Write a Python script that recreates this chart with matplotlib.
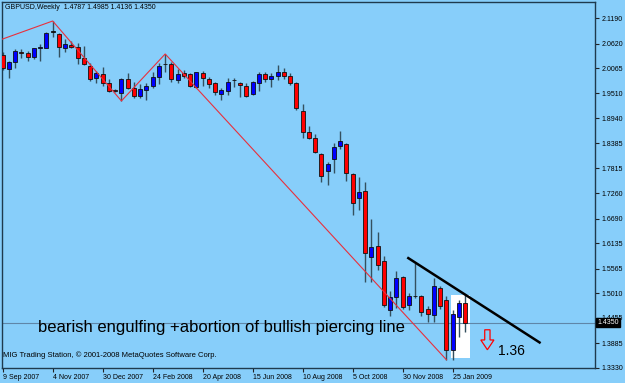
import matplotlib
matplotlib.use('Agg')
import matplotlib.pyplot as plt
import matplotlib.transforms as mtransforms
from matplotlib.patches import FancyArrow, Rectangle
import numpy as np

# weekly GBPUSD candles, 9 Sep 2007 .. Feb 2009
opens = [2.0366, 2.0051, 2.0202, 2.0440, 2.0404, 2.0328, 2.0516, 2.0516, 2.0882, 2.0837,
         2.0530, 2.0590, 2.0539, 2.0292, 2.0125, 1.9842, 1.9932, 1.9730, 1.9573, 1.9512,
         1.9827, 1.9631, 1.9445, 1.9568, 1.9676, 1.9878, 2.0157, 2.0164, 1.9804, 1.9955,
         1.9932, 1.9654, 1.9955, 1.9820, 1.9730, 1.9490, 1.9564, 1.9797, 1.9730, 1.9669,
         1.9483, 1.9744, 1.9939, 1.9820, 1.9901, 1.9977, 1.9901, 1.9744, 1.9108, 1.8643,
         1.8495, 1.8142, 1.7767, 1.8030, 1.8322, 1.8360, 1.7693, 1.7147, 1.7318, 1.5822,
         1.6076, 1.5746, 1.4638, 1.4924, 1.5373, 1.4751, 1.4946, 1.4953, 1.4654, 1.4526,
         1.5126, 1.4848, 1.3740, 1.4466, 1.4787]
highs = [2.0433, 2.0231, 2.0494, 2.0494, 2.0456, 2.0530, 2.0606, 2.0889, 2.1129, 2.0853,
         2.0725, 2.0680, 2.0642, 2.0568, 2.0179, 2.0006, 2.0089, 1.9820, 1.9602, 1.9849,
         1.9955, 1.9766, 1.9708, 1.9730, 1.9977, 2.0179, 2.0388, 2.0215, 2.0045, 2.0029,
         1.9955, 1.9991, 2.0013, 1.9865, 1.9766, 1.9618, 1.9842, 1.9842, 1.9766, 1.9730,
         1.9788, 1.9977, 1.9977, 1.9955, 2.0141, 2.0067, 1.9955, 1.9766, 1.9265, 1.8778,
         1.8591, 1.8158, 1.7956, 1.8383, 1.8666, 1.8383, 1.7709, 1.7632, 1.7507, 1.6676,
         1.6397, 1.5851, 1.5065, 1.5514, 1.5402, 1.5020, 1.5687, 1.4975, 1.4713, 1.5350,
         1.5177, 1.4937, 1.4638, 1.4863, 1.4985]
lows = [2.0029, 1.9856, 2.0067, 2.0292, 2.0231, 2.0269, 2.0238, 2.0512, 2.0777, 2.0328,
        2.0440, 2.0516, 2.0157, 2.0141, 1.9788, 1.9730, 1.9676, 1.9528, 1.9535, 1.9333,
        1.9602, 1.9393, 1.9393, 1.9355, 1.9618, 1.9708, 1.9977, 1.9753, 1.9744, 1.9842,
        1.9654, 1.9618, 1.9676, 1.9618, 1.9467, 1.9355, 1.9467, 1.9654, 1.9429, 1.9416,
        1.9467, 1.9564, 1.9766, 1.9654, 1.9804, 1.9820, 1.9692, 1.9130, 1.8495, 1.8486,
        1.8158, 1.7520, 1.7446, 1.7722, 1.8248, 1.7543, 1.6772, 1.6884, 1.5252, 1.5274,
        1.5537, 1.4699, 1.4504, 1.4684, 1.4661, 1.4638, 1.4901, 1.4504, 1.4353, 1.4353,
        1.4654, 1.3515, 1.3515, 1.4025, 1.4136]
closes = [2.0074, 2.0202, 2.0462, 2.0404, 2.0328, 2.0516, 2.0539, 2.0853, 2.0894, 2.0539,
          2.0613, 2.0539, 2.0292, 2.0157, 1.9827, 1.9955, 1.9730, 1.9557, 1.9550, 1.9827,
          1.9631, 1.9445, 1.9602, 1.9665, 1.9878, 2.0125, 2.0168, 1.9827, 1.9939, 1.9901,
          1.9669, 1.9977, 1.9842, 1.9708, 1.9528, 1.9580, 1.9766, 1.9809, 1.9692, 1.9452,
          1.9753, 1.9939, 1.9820, 1.9894, 1.9977, 1.9901, 1.9730, 1.9182, 1.8643, 1.8508,
          1.8194, 1.7655, 1.7918, 1.8306, 1.8434, 1.7709, 1.7035, 1.7282, 1.5912, 1.6060,
          1.5649, 1.4751, 1.4924, 1.5350, 1.4699, 1.4937, 1.4957, 1.4578, 1.4549, 1.5177,
          1.4728, 1.3740, 1.4542, 1.4789, 1.4350]

date_labels = ['9 Sep 2007', '4 Nov 2007', '30 Dec 2007', '24 Feb 2008', '20 Apr 2008',
               '15 Jun 2008', '10 Aug 2008', '5 Oct 2008', '30 Nov 2008', '25 Jan 2009']
price_ticks = [2.1190, 2.0620, 2.0065, 1.9510, 1.8940, 1.8385, 1.7815, 1.7260,
               1.6690, 1.6135, 1.5565, 1.5010, 1.4455, 1.3885, 1.3330]

# zigzag vertices (week, price)
zz_week = [-0.43, 8, 19, 26, 71]
zz_price = [2.0703, 2.1129, 1.9333, 2.0388, 1.3515]
# hand drawn resistance line
tl_week = [64.9, 85.9]
tl_price = [1.5800, 1.3904]
last_price = 1.4350

bg = '#87cefa'
plt.rcParams['font.family'] = ['Liberation Sans', 'DejaVu Sans']

fig = plt.figure(figsize=(6.25, 3.83), dpi=100, facecolor=bg)
ax = fig.add_axes([2 / 625, 15 / 383, 593 / 625, 366 / 383])
ax.set_facecolor(bg)

x = np.arange(len(opens))
o = np.array(opens); c = np.array(closes)
h = np.array(highs); l = np.array(lows)

# highlight box behind last candles
ax.add_patch(Rectangle((71.73, 1.3554), 3.04, 0.1421, facecolor='white',
                       edgecolor='none', zorder=1))

ax.axhline(last_price, color='#5f86a8', lw=0.8, zorder=1)

ax.vlines(x, l, h, color='#34505f', lw=1.0, zorder=2)
body_col = np.where(np.abs(c - o) < 0.0015, 'black', np.where(c > o, '#0000ff', '#ff0000'))
height = np.maximum(np.abs(c - o), 0.0008)
ax.bar(x, height, bottom=np.minimum(o, c), width=0.64, color=body_col,
       edgecolor='#101010', linewidth=0.6, zorder=3)

ax.plot(zz_week, zz_price, color='#e8303c', lw=0.8, zorder=4)
ax.plot(tl_week, tl_price, color='black', lw=1.8, zorder=4)

ax.add_patch(FancyArrow(77.55, 1.4189, 0, -0.0449, width=0.85, head_width=2.1,
                        head_length=0.022, length_includes_head=True,
                        facecolor='none', edgecolor='red', lw=0.9, zorder=5))

ax.text(5.65, 1.4235, 'bearish engulfing +abortion of bullish piercing line',
        fontsize=12, va='center', ha='left', zorder=5)
ax.text(79.2, 1.3718, '1.36', fontsize=10, va='center', ha='left', zorder=5)

ax.text(0.005, 0.984, 'GBPUSD,Weekly  1.4787 1.4985 1.4136 1.4350', transform=ax.transAxes,
        fontsize=5, va='center', ha='left')
ax.text(0.002, 0.036, 'MIG Trading Station, \u00a9 2001-2008 MetaQuotes Software Corp.',
        transform=ax.transAxes, fontsize=5.5, va='center', ha='left')

ax.set_xlim(-0.11, 94.77)
ax.set_ylim(1.3336, 2.1556)

ax.set_xticks(x[::8][:len(date_labels)])
ax.set_xticklabels(date_labels, ha='left')
ax.yaxis.tick_right()
ax.set_yticks(price_ticks)
ax.set_yticklabels(['%.4f' % p for p in price_ticks])
ax.tick_params(axis='x', direction='out', length=3, pad=1.5, labelsize=5, color='#222222')
ax.tick_params(axis='y', direction='out', length=3, pad=2, labelsize=5, color='#222222')

trans = mtransforms.blended_transform_factory(ax.transAxes, ax.transData)
ax.text(1.004, last_price, '%.4f' % last_price, transform=trans, fontsize=5, color='white',
        va='center', ha='left', zorder=10, clip_on=False,
        bbox=dict(facecolor='black', edgecolor='black', pad=0.8))

for s in ax.spines.values():
    s.set_color('#1e3a4e')
    s.set_linewidth(1.0)

fig.savefig('out.png', dpi=100, facecolor=bg)
